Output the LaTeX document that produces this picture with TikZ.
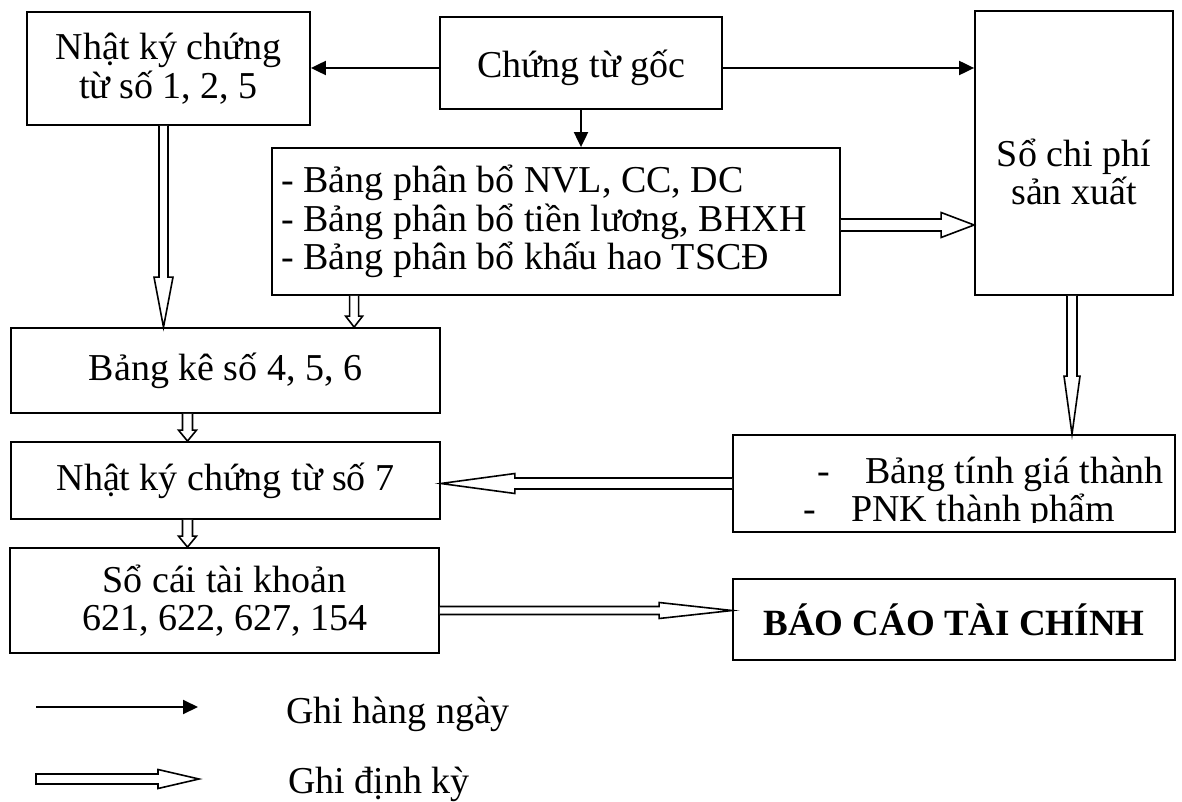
\documentclass[tikz,border=0pt]{standalone}
\usepackage{fontspec}
\setmainfont{Liberation Serif}
\usetikzlibrary{calc,arrows.meta}

\newcommand\bodysize{\fontsize{38}{38.5}\selectfont}
\newcommand\titlesize{\fontsize{37}{42}\selectfont}

% Hollow ("periodic") arrow from #5 to #6:
% #2 = half shaft width, #3 = half head width, #4 = head length, #1 = path end
\newcommand\hollowarrow[6][]{%
  \coordinate (hb) at ($(#6)!#4!(#5)$);
  \draw[hollow] ($(#5)!#2!90:(#6)$) -- ($(hb)!#2!90:(#6)$) -- ($(hb)!#3!90:(#6)$)
    -- (#6) -- ($(hb)!#3!-90:(#6)$) -- ($(hb)!#2!-90:(#6)$) -- ($(#5)!#2!-90:(#6)$) #1;%
}

\tikzset{
  box/.style={draw, line width=1.8pt, inner sep=0pt, align=center, font=\bodysize},
  label/.style={inner sep=0pt, font=\bodysize},
  daily/.style={line width=2pt, -{Triangle[length=15pt,width=14pt]}},
  hollow/.style={line width=1.6pt, fill=white, line join=miter},
}

\begin{document}
\begin{tikzpicture}[x=1pt,y=-1pt]
\useasboundingbox (0,0) rectangle (1182,802);

% boxes
\node[box, minimum width=283pt, minimum height=113pt] (nk1) at (168.5,68.5) {Nhật ký chứng\\từ số 1, 2, 5};
\node[box, minimum width=282pt, minimum height=92pt] (cg) at (581,63) {};
\node[label] (cgt) at ([yshift=-5pt]cg.center) {Chứng từ gốc};
\node[box, minimum width=198pt, minimum height=284pt] (scp) at (1074,153) {};
\node[label, align=center] (scpt) at ([yshift=-19pt]scp.center) {Sổ chi phí\\sản xuất};
\node[box, minimum width=568pt, minimum height=147pt] (pb) at (556,221.5) {};
\node[label, anchor=west, align=left] (pbt) at ([xshift=10pt]pb.west)
  {- Bảng phân bổ NVL, CC, DC\\- Bảng phân bổ tiền lương, BHXH\\- Bảng phân bổ khấu hao TSCĐ};
\node[box, minimum width=429pt, minimum height=85pt] (bk) at (225.5,370.5) {Bảng kê số 4, 5, 6};
\node[box, minimum width=429pt, minimum height=77pt] (nk7) at (225.5,480.5) {Nhật ký chứng từ số 7};
\node[box, minimum width=429pt, minimum height=105pt] (sc) at (224.5,600.5) {Sổ cái tài khoản\\621, 622, 627, 154};
\node[box, minimum width=442pt, minimum height=97pt] (gt) at (954,483.5) {};
\node[box, minimum width=442pt, minimum height=81pt, font=\titlesize\bfseries] (bc) at (954,619.5) {BÁO CÁO TÀI CHÍNH};

% price-calculation box contents (second line cut by the frame)
\node[label, anchor=base west] (gt1d) at (817,483) {-};
\node[label, anchor=base west] (gt1) at (865,483) {Bảng tính giá thành};
\begin{scope}
  \clip ([xshift=2pt]gt.north west) rectangle ([yshift=10pt]gt.south east);
  \node[label, anchor=base west] (gt2d) at (803,521) {-};
  \node[label, anchor=base west] (gt2) at (851,521) {PNK thành phẩm};
\end{scope}

% daily flows
\draw[daily] ([yshift=-5pt]cg.west) -- ([yshift=-5pt]cg.west -| nk1.east);
\draw[daily] ([yshift=-5pt]cg.east) -- ([yshift=-5pt]cg.east -| scp.west);
\draw[daily] (cg.south) -- (cg.south |- pb.north);

% periodic flows
\coordinate (a1s) at ([xshift=-5pt]nk1.south);
\coordinate (a1e) at (a1s |- bk.north);
\hollowarrow{4.5pt}{9.5pt}{50pt}{a1s}{a1e}

\coordinate (a2s) at ([xshift=83pt]pb.south west);
\coordinate (a2e) at (a2s |- bk.north);
\hollowarrow{4.5pt}{8.5pt}{11pt}{a2s}{a2e}

\coordinate (a3s) at ([yshift=-3.5pt]pb.east);
\coordinate (a3e) at (a3s -| scp.west);
\hollowarrow{6pt}{12.5pt}{33pt}{a3s}{a3e}

\coordinate (a4s) at ([xshift=-38pt]bk.south);
\coordinate (a4e) at (a4s |- nk7.north);
\hollowarrow{5pt}{9pt}{11pt}{a4s}{a4e}

\coordinate (a5s) at ([xshift=-38pt]nk7.south);
\coordinate (a5e) at (a5s |- sc.north);
\hollowarrow{5pt}{9pt}{11pt}{a5s}{a5e}

\coordinate (a6s) at ([xshift=-2pt]scp.south);
\coordinate (a6e) at (a6s |- gt.north);
\hollowarrow{5pt}{8pt}{58pt}{a6s}{a6e}

\coordinate (a7e) at (gt.west -| nk7.east);
\hollowarrow{5.5pt}{10pt}{74pt}{gt.west}{a7e}

\coordinate (a8s) at ([yshift=-10pt]sc.east);
\coordinate (a8e) at (a8s -| bc.west);
\hollowarrow{4pt}{8pt}{73pt}{a8s}{a8e}

% legend
\coordinate (l1s) at (36,707);
\coordinate (l1e) at (198,707);
\draw[daily] (l1s) -- (l1e);
\node[label, anchor=base west] (l1t) at (286,723) {Ghi hàng ngày};

\coordinate (l2s) at (36,779);
\coordinate (l2e) at (199,779);
\hollowarrow[-- cycle]{5pt}{9.5pt}{41pt}{l2s}{l2e}
\node[label, anchor=base west] (l2t) at (288,793) {Ghi định kỳ};
\end{tikzpicture}
\end{document}
